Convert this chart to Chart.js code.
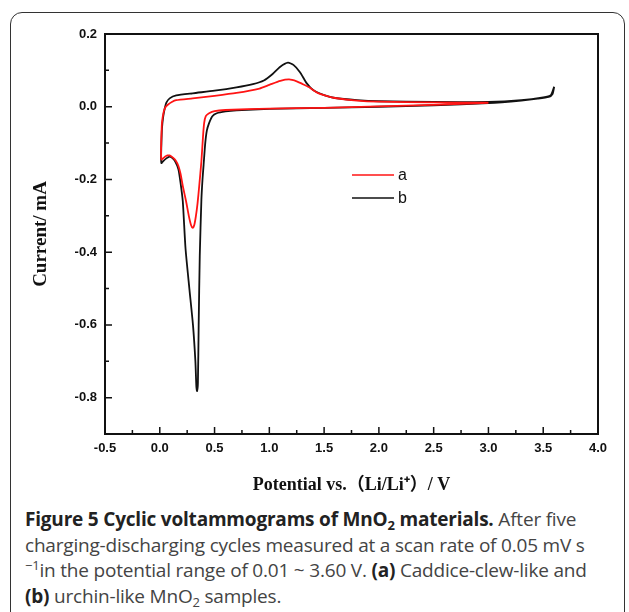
<!DOCTYPE html>
<html>
<head>
<meta charset="utf-8">
<script src="https://cdn.jsdelivr.net/npm/chart.js@4.4.1/dist/chart.umd.min.js"></script>
<style>
    body {margin: 0; background: #fff; width: 629px; height: 612px; overflow: hidden; position: relative;}
    .frame {position: absolute; left: 10px; top: 12px; width: 613px; height: 660px; border: 1.5px solid #333; border-radius: 12px;}
    #chart {position: absolute; left: 0; top: 0;}
    .caption {position: absolute; left: 25px; top: 507px; width: 600px; font-family: 'Open Sans', sans-serif; font-size: 19px; line-height: 25.7px; color: #444; white-space: nowrap; letter-spacing: -0.2px;}
    .caption b {color: #222; font-weight: 700;}
    .caption sub {font-size: 13px; line-height: 0; vertical-align: -4px;}
    .caption sup {font-size: 13px; line-height: 0; vertical-align: 7px;}
</style>
</head>
<body>
<div class="frame"></div>
<canvas id="chart" width="629" height="500"></canvas>
<div class="caption"><b>Figure 5 Cyclic voltammograms of MnO<sub>2</sub> materials.</b> After five<br>charging-discharging cycles measured at a scan rate of 0.05 mV s<br><sup>−1</sup>in the potential range of 0.01 ~ 3.60 V. <b>(a)</b> Caddice-clew-like and<br><b>(b)</b> urchin-like MnO<sub>2</sub> samples.</div>
<script>
    // axis ticks
    const xTicks = [-0.5, 0.0, 0.5, 1.0, 1.5, 2.0, 2.5, 3.0, 3.5, 4.0]
    const yTicks = [-0.8, -0.6, -0.4, -0.2, 0.0, 0.2]

    // a: caddice-clew-like MnO2 (potential V, current mA)
    const aV = [3.00, 2.50, 2.00, 1.50, 1.00, 0.60, 0.50, 0.45, 0.42, 0.405,
        0.395, 0.38, 0.36, 0.345, 0.33, 0.315, 0.30, 0.285, 0.265, 0.24,
        0.21, 0.19, 0.17, 0.145, 0.12, 0.09, 0.07, 0.05, 0.03, 0.015,
        0.012, 0.015, 0.02, 0.035, 0.05, 0.076, 0.11, 0.15, 0.30, 0.50,
        0.70, 0.91, 1.00, 1.10, 1.18, 1.25, 1.30, 1.36, 1.44, 1.52,
        1.60, 1.80, 2.00, 2.50, 3.00]
    const aI = [0.011, 0.005, 0.001, -0.003, -0.005, -0.009, -0.012, -0.018, -0.026, -0.045,
        -0.080, -0.150, -0.218, -0.265, -0.300, -0.325, -0.333, -0.325, -0.300, -0.260,
        -0.218, -0.185, -0.163, -0.148, -0.140, -0.134, -0.134, -0.137, -0.142, -0.145,
        -0.120, -0.080, -0.044, -0.015, -0.002, 0.006, 0.013, 0.018, 0.023, 0.030,
        0.038, 0.050, 0.060, 0.071, 0.075, 0.070, 0.063, 0.054, 0.038, 0.030,
        0.024, 0.017, 0.014, 0.012, 0.011]

    // b: urchin-like MnO2
    const bV = [3.60, 3.585, 3.55, 3.45, 3.30, 3.00, 2.50, 2.00, 1.50, 1.00,
        0.70, 0.60, 0.52, 0.48, 0.45, 0.43, 0.415, 0.40, 0.39, 0.38,
        0.365, 0.355, 0.348, 0.340, 0.334, 0.325, 0.303, 0.27, 0.235, 0.21,
        0.19, 0.17, 0.14, 0.11, 0.09, 0.06, 0.03, 0.015, 0.012, 0.015,
        0.02, 0.03, 0.045, 0.06, 0.09, 0.15, 0.30, 0.50, 0.70, 0.85,
        0.95, 1.03, 1.10, 1.17, 1.22, 1.28, 1.34, 1.40, 1.50, 1.60,
        1.80, 2.00, 2.50, 3.00, 3.30, 3.50, 3.57, 3.60]
    const bI = [0.055, 0.035, 0.027, 0.022, 0.017, 0.010, 0.004, 0.000, -0.003, -0.006,
        -0.010, -0.013, -0.018, -0.026, -0.045, -0.065, -0.100, -0.160, -0.200, -0.255,
        -0.410, -0.600, -0.760, -0.782, -0.770, -0.700, -0.600, -0.500, -0.390, -0.260,
        -0.210, -0.172, -0.150, -0.140, -0.137, -0.142, -0.150, -0.155, -0.140, -0.100,
        -0.060, -0.030, -0.005, 0.011, 0.023, 0.031, 0.037, 0.044, 0.053, 0.062,
        0.072, 0.090, 0.110, 0.121, 0.115, 0.095, 0.065, 0.046, 0.032, 0.024,
        0.018, 0.015, 0.013, 0.013, 0.018, 0.026, 0.032, 0.055]

    const toPoints = (vs, is) => vs.map((v, i) => ({x: v, y: is[i]}))

    // box + inward ticks + legend, drawn on top of the chart
    const frameTicks = {
        id: 'frameTicks',
        afterDraw(chart) {
            const {ctx, chartArea: {left, right, top, bottom}, scales: {x, y}} = chart
            ctx.save()
            ctx.strokeStyle = '#111'
            ctx.lineWidth = 2
            ctx.strokeRect(left, top, right - left, bottom - top)

            ctx.lineWidth = 1.5
            ctx.beginPath()
            xTicks.forEach((v, i) => {
                const px = x.getPixelForValue(v)
                ctx.moveTo(px, bottom)
                ctx.lineTo(px, bottom - 7)
                if (i < xTicks.length - 1) {
                    const mx = x.getPixelForValue((v + xTicks[i + 1]) / 2)
                    ctx.moveTo(mx, bottom)
                    ctx.lineTo(mx, bottom - 4)
                }
            })
            yTicks.forEach((v, i) => {
                const py = y.getPixelForValue(v)
                ctx.moveTo(left, py)
                ctx.lineTo(left + 7, py)
                const my = y.getPixelForValue(v - 0.1)
                ctx.moveTo(left, my)
                ctx.lineTo(left + 4, my)
            })
            ctx.stroke()

            // legend
            ctx.font = '16px "Liberation Sans", Arial, sans-serif'
            ctx.textBaseline = 'middle'
            ctx.fillStyle = '#111'
            chart.data.datasets.forEach((ds, i) => {
                const ly = 175 + i * 23
                ctx.strokeStyle = ds.borderColor
                ctx.lineWidth = 1.5
                ctx.beginPath()
                ctx.moveTo(352, ly)
                ctx.lineTo(394, ly)
                ctx.stroke()
                ctx.fillText(ds.label, 398, ly + 1)
            })
            ctx.restore()
        }
    }

    const tickFont = {family: '"Liberation Sans", Arial, sans-serif', weight: 'bold', size: 13}
    const titleFont = {family: '"Liberation Serif", "Noto Sans CJK SC", serif', weight: 'bold', size: 19}

    new Chart(document.getElementById('chart').getContext('2d'), {
        type: 'scatter',
        data: {
            datasets: [
                {
                    label: 'a',
                    data: toPoints(aV, aI),
                    showLine: true,
                    borderColor: '#ff1414',
                    borderWidth: 1.8,
                    pointRadius: 0,
                    tension: 0.2
                },
                {
                    label: 'b',
                    data: toPoints(bV, bI),
                    showLine: true,
                    borderColor: '#111111',
                    borderWidth: 1.8,
                    pointRadius: 0,
                    tension: 0.2
                }
            ]
        },
        options: {
            responsive: false,
            animation: false,
            devicePixelRatio: 1,
            layout: {padding: {left: 0, right: 31, top: 34, bottom: 0}},
            plugins: {legend: {display: false}, tooltip: {enabled: false}},
            scales: {
                x: {
                    type: 'linear',
                    min: -0.5,
                    max: 4.0,
                    afterBuildTicks: s => { s.ticks = xTicks.map(v => ({value: v})) },
                    afterFit: s => { s.height = 66 },
                    grid: {drawOnChartArea: false, drawTicks: false},
                    border: {color: '#111', width: 2},
                    ticks: {font: tickFont, color: '#111', padding: 7, maxRotation: 0, autoSkip: false,
                        callback: v => v.toFixed(1)},
                    title: {display: true, text: 'Potential vs.（Li/Li⁺）/ V', font: {...titleFont, size: 18}, color: '#111',
                        padding: {top: 0, bottom: 4}}
                },
                y: {
                    type: 'linear',
                    min: -0.9,
                    max: 0.2,
                    afterBuildTicks: s => { s.ticks = yTicks.map(v => ({value: v})) },
                    afterFit: s => { s.width = 105 },
                    grid: {drawOnChartArea: false, drawTicks: false},
                    border: {color: '#111', width: 2},
                    ticks: {font: tickFont, color: '#111', padding: 8, autoSkip: false,
                        callback: v => v.toFixed(1)},
                    title: {display: true, text: 'Current/ mA', font: titleFont, color: '#111',
                        padding: {top: 30, bottom: 0}}
                }
            }
        },
        plugins: [frameTicks]
    })
</script>
</body>
</html>
